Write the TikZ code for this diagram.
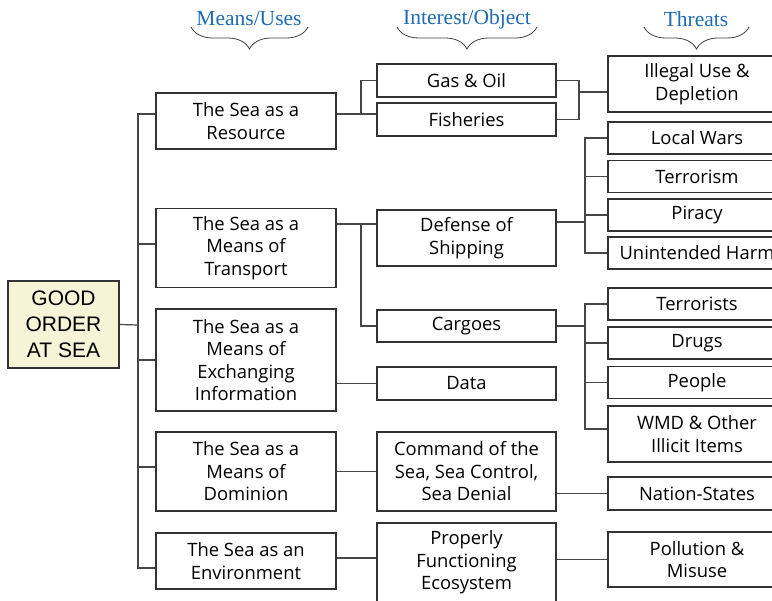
\documentclass[tikz,border=0pt]{standalone}
\usepackage{fontspec}
\setmainfont{Open Sans}
\newfontfamily\rootfont{Liberation Sans}
\newfontfamily\headfont{Liberation Serif}
\usetikzlibrary{decorations.pathreplacing,calc}
\definecolor{headblue}{RGB}{28,108,182}
\definecolor{rootfill}{RGB}{246,243,214}
\definecolor{boxline}{RGB}{50,50,50}
\definecolor{conline}{RGB}{70,70,70}
\tikzset{
  box/.style={draw=boxline, line width=1.1pt, align=center, inner sep=0pt,
    font=\fontsize{18.4}{22.5}\selectfont},
  colone/.style={box, minimum width=180pt},
  coltwo/.style={box, minimum width=179pt},
  colthree/.style={box, minimum width=178pt},
  rootbox/.style={draw=boxline, line width=1.1pt, fill=rootfill, align=center, inner sep=0pt,
    minimum width=111pt, minimum height=87pt, font=\rootfont\fontsize{21}{26}\selectfont},
  conn/.style={draw=conline, line width=1.2pt},
  head/.style={text=headblue, font=\headfont\fontsize{21.5}{24}\selectfont, inner sep=0pt},
  bracedraw/.style={draw=black!75, line width=0.8pt,
    decorate, decoration={brace, mirror, amplitude=22pt}}
}
\begin{document}
\begin{tikzpicture}[x=1pt,y=-1pt]
\clip (0,0) rectangle (772,601);
\fill[white] (0,0) rectangle (772,601);

% headers
\node[head] (h1) at (249,19) {Means/Uses};
\node[head] (h2) at (467,19) {Interest/Object};
\node[head] (h3) at (696,19) {Threats};
\coordinate (b1l) at (191,27); \coordinate (b1r) at (308,27);
\coordinate (b2l) at (397,27); \coordinate (b2r) at (537,27);
\coordinate (b3l) at (644,27); \coordinate (b3r) at (749,27);
\draw[bracedraw] (b1l) -- (b1r);
\draw[bracedraw] (b2l) -- (b2r);
\draw[bracedraw] (b3l) -- (b3r);

% root
\node[rootbox] (root) at (63.5,324.5) {GOOD\\ORDER\\AT SEA};

% column 1
\node[colone, minimum height=56pt] (res) at (246,121) {The Sea as a\\Resource};
\node[colone, minimum height=79pt] (tra) at (246,248) {The Sea as a\\Means of\\Transport};
\node[colone, minimum height=102pt] (exc) at (246,360) {The Sea as a\\Means of\\Exchanging\\Information};
\node[colone, minimum height=79pt] (dom) at (246,471.5) {The Sea as a\\Means of\\Dominion};
\node[colone, minimum height=56pt] (env) at (246,561) {The Sea as an\\Environment};

% column 2
\node[coltwo, minimum height=33pt] (gas) at (466.5,80.5) {Gas \& Oil};
\node[coltwo, minimum height=33pt] (fish) at (466.5,119.5) {Fisheries};
\node[coltwo, minimum height=56pt] (def) at (466.5,238) {Defense of\\Shipping};
\node[coltwo, minimum height=32pt] (car) at (466.5,326) {Cargoes};
\node[coltwo, minimum height=33pt] (data) at (466.5,383.5) {Data};
\node[coltwo, minimum height=79pt] (cmd) at (466.5,471.5) {Command of the\\Sea, Sea Control,\\Sea Denial};
\node[coltwo, minimum height=79pt] (eco) at (466.5,562.5) {Properly\\Functioning\\Ecosystem};

% column 3
\node[colthree, minimum height=56pt] (ill) at (697,84) {Illegal Use \&\\Depletion};
\node[colthree, minimum height=32pt] (war) at (697,138) {Local Wars};
\node[colthree, minimum height=32pt] (ter) at (697,176.5) {Terrorism};
\node[colthree, minimum height=32pt] (pir) at (697,215) {Piracy};
\node[colthree, minimum height=32pt] (unh) at (697,253) {Unintended Harm};
\node[colthree, minimum height=32pt] (tst) at (697,304) {Terrorists};
\node[colthree, minimum height=32pt] (drg) at (697,343) {Drugs};
\node[colthree, minimum height=32pt] (ppl) at (697,382.5) {People};
\node[colthree, minimum height=56pt] (wmd) at (697,434) {WMD \& Other\\Illicit Items};
\node[colthree, minimum height=33pt] (nat) at (697,493.5) {Nation-States};
\node[colthree, minimum height=55pt] (pol) at (697,559.5) {Pollution \&\\Misuse};

% junction coordinates
\coordinate (t0) at (138,325);
\coordinate (j1) at (361,114);
\coordinate (j2) at (579,92);
\coordinate (j3) at (361,224);
\coordinate (j4) at (585,222);
\coordinate (j5) at (585,324);

% root trunk
\draw[conn] (root.east) -- (t0);
\draw[conn] ([yshift=7pt]res.west) -| ([yshift=-7pt]env.west -| t0) -- ([yshift=-7pt]env.west);
\draw[conn] ([yshift=4pt]tra.west -| t0) -- ([yshift=4pt]tra.west);
\draw[conn] (exc.west -| t0) -- (exc.west);
\draw[conn] ([yshift=4.5pt]dom.west -| t0) -- ([yshift=4.5pt]dom.west);

% resource
\draw[conn] ([yshift=7pt]res.east) -- ([yshift=5.5pt]fish.west);
\draw[conn] (j1) |- (gas.west);
\draw[conn] (gas.east) -| (j2 |- fish.east) -- (fish.east);
\draw[conn] (j2) -- (j2 -| ill.west);

% transport
\draw[conn] ([yshift=24pt]tra.east) -- ([yshift=14pt]def.west);
\draw[conn] (j3) |- (car.west);
\draw[conn] ([yshift=16pt]def.east) -- (j4);
\draw[conn] (war.west) -| (unh.west -| j4) -- (unh.west);
\draw[conn] (ter.west -| j4) -- (ter.west);
\draw[conn] (pir.west -| j4) -- (pir.west);
\draw[conn] (car.east) -- (car.east -| j5);
\draw[conn] (tst.west) -| ([yshift=5pt]wmd.west -| j5) -- ([yshift=5pt]wmd.west);
\draw[conn] (drg.west -| j5) -- (drg.west);
\draw[conn] (ppl.west -| j5) -- (ppl.west);

% exchanging
\draw[conn] (data.west -| exc.east) -- (data.west);

% dominion
\draw[conn] (dom.east) -- (cmd.west);
\draw[conn] (nat.west -| cmd.east) -- (nat.west);

% environment
\draw[conn] ([yshift=3pt]env.east) -- ([yshift=3pt]env.east -| eco.west);
\draw[conn] (pol.west -| eco.east) -- (pol.west);
\end{tikzpicture}
\end{document}
